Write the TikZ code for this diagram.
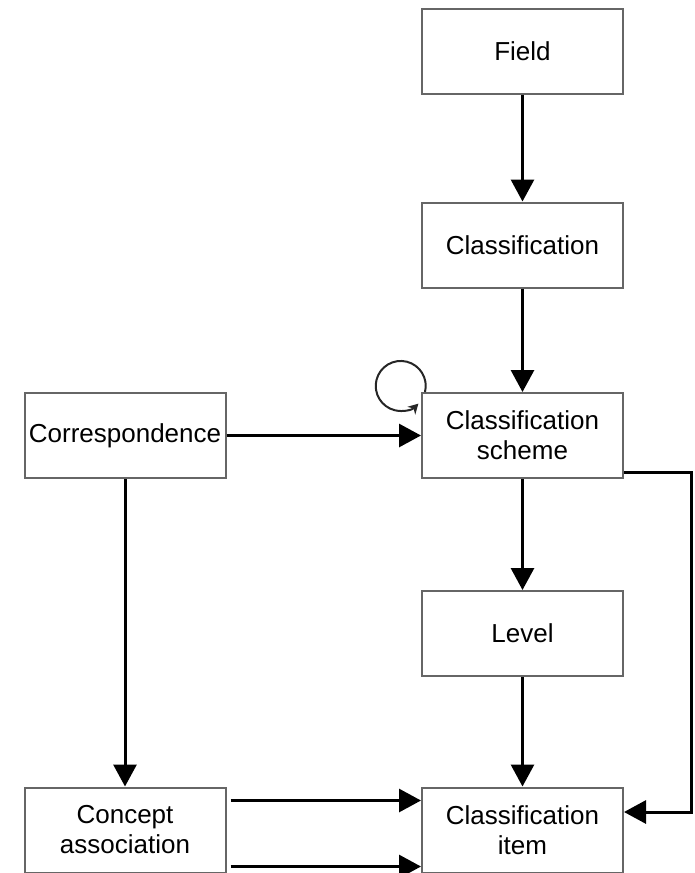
\documentclass[tikz,border=0pt]{standalone}
\usepackage{fontspec}
\setmainfont{Liberation Sans}
\usetikzlibrary{arrows.meta,calc}
\tikzset{
  box/.style={draw=black!60, line width=2pt, fill=white, minimum width=201pt, minimum height=85pt,
    inner sep=0pt, align=center, font=\fontsize{26}{30}\selectfont},
  arr/.style={line width=3pt, -{Triangle[width=23pt,length=22pt]}},
  looparr/.style={line width=2pt, black!85, -{Stealth[width=11pt,length=10pt]}}
}
\begin{document}
\begin{tikzpicture}[x=1pt,y=1pt]
\useasboundingbox (0,0) rectangle (694,-873);
\node[box] (field) at (522.5,-51) {Field};
\node[box] (class) at (522.5,-245) {Classification};
\node[box] (scheme) at (522.5,-435.5) {Classification\\scheme};
\node[box] (corr) at (125,-435.5) {Correspondence};
\node[box] (level) at (522.5,-633.5) {Level};
\node[box] (concept) at (125,-830) {Concept\\association};
\node[box] (item) at (522.5,-830) {Classification\\item};
\draw[arr] (field) -- (class);
\draw[arr] (class) -- (scheme);
\draw[arr] (scheme) -- (level);
\draw[arr] (level) -- (item);
\draw[arr] (corr) -- (scheme);
\draw[arr] (corr) -- (concept);
\draw[arr] ($(scheme.south east)+(0,7)$) -- ++(67,0) |- ($(item.east)+(0,18)$);
\draw[arr] ($(concept.north east)+(4,-14)$) -- ($(item.north west)+(0,-14)$);
\draw[arr] ($(concept.south east)+(4,7)$) -- ($(item.south west)+(0,7)$);
\coordinate (ls) at ($(scheme.north west)+(4,0)$);
\draw[looparr] (ls) arc[start angle=-14, end angle=315, radius=25];
\end{tikzpicture}
\end{document}
